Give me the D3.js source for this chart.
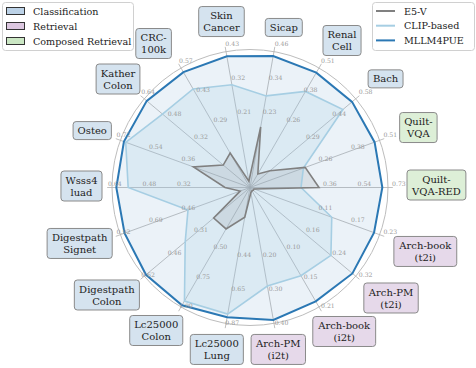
<!DOCTYPE html>
<html><head><meta charset="utf-8">
<script src="https://cdn.jsdelivr.net/npm/d3@7"></script>
<style>body{margin:0;background:#fff}svg{display:block}</style>
</head><body><svg id="c" width="476" height="368"></svg>
<script>
// Axes, counter-clockwise starting from the right (3 o'clock)
const categories = ["Quilt-\nVQA-RED", "Quilt-\nVQA", "Bach", "Renal\nCell", "Sicap", "Skin\nCancer",
  "CRC-\n100k", "Kather\nColon", "Osteo", "Wsss4\nluad", "Digestpath\nSignet", "Digestpath\nColon",
  "Lc25000\nColon", "Lc25000\nLung", "Arch-PM\n(i2t)", "Arch-book\n(i2t)", "Arch-PM\n(t2i)", "Arch-book\n(t2i)"];
const taskTypes = ["Composed Retrieval", "Composed Retrieval", "Classification", "Classification", "Classification",
  "Classification", "Classification", "Classification", "Classification", "Classification", "Classification",
  "Classification", "Classification", "Classification", "Retrieval", "Retrieval", "Retrieval", "Retrieval"];
const axisMax = [0.73, 0.51, 0.58, 0.51, 0.46, 0.43, 0.57, 0.64, 0.72, 0.64, 0.92, 0.62, 1.00, 0.87, 0.40, 0.21, 0.32, 0.23];
const tickFractions = [0.5, 0.75, 1.0];
const tickLabels = [
  ["0.36", "0.54", "0.73"], ["0.26", "0.38", "0.51"], ["0.29", "0.44", "0.58"], ["0.26", "0.38", "0.51"],
  ["0.23", "0.34", "0.46"], ["0.21", "0.32", "0.43"], ["0.29", "0.43", "0.57"], ["0.32", "0.48", "0.64"],
  ["0.36", "0.54", "0.72"], ["0.32", "0.48", "0.64"], ["0.46", "0.69", "0.92"], ["0.31", "0.46", "0.62"],
  ["0.50", "0.75", "1.00"], ["0.44", "0.65", "0.87"], ["0.20", "0.30", "0.40"], ["0.10", "0.15", "0.21"],
  ["0.16", "0.24", "0.32"], ["0.11", "0.17", "0.23"]];
const seriesNames = ["E5-V", "CLIP-based", "MLLM4PUE"];
const e5v = [0.365, 0.217, 0.11, 0.058, 0.205, 0.02, 0.164, 0.162, 0.314, 0.116, 0.07, 0.213, 0.347, 0.19, 0.015, 0.006, 0.01, 0.007];
const clipBased = [0.27, 0.21, 0.51, 0.41, 0.31, 0.325, 0.47, 0.53, 0.69, 0.565, 0.44, 0.38, 0.95, 0.81, 0.29, 0.155, 0.245, 0.145];
const mllm4pue = [0.70, 0.49, 0.56, 0.49, 0.445, 0.415, 0.55, 0.625, 0.70, 0.62, 0.89, 0.61, 0.985, 0.83, 0.39, 0.20, 0.31, 0.22];

// layout: small per-label nudges of the category boxes (px)
const labelNudgeX = [0, 3, 1, 2, 0, -2, -15, -2, 0, 1, 0, -5, -8, -6, -7, -2, -1, -2];
const labelNudgeY = [0, 0, -2, 1, 2, 2, 4, 2, 1, 1, 1, 2, 0, -1, -1, 1, 5, 9];

const taskOrder = ["Classification", "Retrieval", "Composed Retrieval"];
const taskFill = {"Classification": "#d5e3ef", "Retrieval": "#e6d9ea", "Composed Retrieval": "#ddefd7"};
const taskSwatch = {"Classification": "#bcd2e7", "Retrieval": "#dcc7e0", "Composed Retrieval": "#cbe7c4"};
const seriesColor = {"E5-V": "#808080", "CLIP-based": "#a6cee3", "MLLM4PUE": "#2b78b4"};
const seriesFill = {"E5-V": ["#8a8f98", 0.18], "CLIP-based": ["#a6cee3", 0.22], "MLLM4PUE": ["#6fa3cf", 0.14]};
const seriesWidth = {"E5-V": 1.6, "CLIP-based": 1.6, "MLLM4PUE": 2.0};

const cx = 250, cy = 187.5, R = 138;
const n = categories.length;
const svg = d3.select("#c");
const font = "DejaVu Serif";
const theta = i => i * 2 * Math.PI / n;           // CCW from +x
const pt = (i, r) => [cx + r * Math.cos(theta(i)), cy - r * Math.sin(theta(i))];
const scales = axisMax.map(m => d3.scaleLinear().domain([0, m]).range([0, R]));

const g = svg.append("g");
g.append("circle").attr("cx", cx).attr("cy", cy).attr("r", R)
  .attr("fill", "none").attr("stroke", "#bdbdbd").attr("stroke-width", 1);
categories.forEach((c, i) => {
  const [x2, y2] = pt(i, R * 1.035);
  g.append("line").attr("x1", cx).attr("y1", cy).attr("x2", x2).attr("y2", y2)
    .attr("stroke", "#b0b0b0").attr("stroke-width", 0.8);
});

const radial = d3.lineRadial()
  .angle((d, i) => Math.PI / 2 - theta(i))
  .radius((d, i) => scales[i](d))
  .curve(d3.curveLinearClosed);

const seriesData = [["MLLM4PUE", mllm4pue], ["CLIP-based", clipBased], ["E5-V", e5v]];
const plot = svg.append("g").attr("transform", `translate(${cx},${cy})`);
seriesData.forEach(([name, vals]) => {
  plot.append("path").attr("d", radial(vals))
    .attr("fill", seriesFill[name][0]).attr("fill-opacity", seriesFill[name][1]).attr("stroke", "none");
});
seriesData.forEach(([name, vals]) => {
  plot.append("path").attr("d", radial(vals))
    .attr("fill", "none").attr("stroke", seriesColor[name]).attr("stroke-width", seriesWidth[name])
    .attr("stroke-linejoin", "miter");
});

categories.forEach((c, i) => {
  tickFractions.forEach((f, k) => {
    const [x, y] = pt(i, R * f + 4);
    svg.append("text").attr("x", x).attr("y", y - 2)
      .attr("font-family", font).attr("font-size", 6.2).attr("fill", "#999")
      .text(tickLabels[i][k]);
  });
});

const r0 = 153, lineH = 12, padX = 4.5, padY = 3;
categories.forEach((c, i) => {
  const lines = c.split("\n");
  const lg = svg.append("g");
  const rect = lg.append("rect");
  const t = lg.append("text").attr("font-family", font).attr("font-size", 10).attr("fill", "#222")
    .attr("text-anchor", "middle");
  lines.forEach((l, k) => {
    t.append("tspan").attr("x", 0).attr("y", (k - (lines.length - 1) / 2) * lineH + 3.6).text(l);
  });
  const bb = t.node().getBBox();
  const w = bb.width + 2 * padX, h = lines.length * lineH + 2 * padY;
  rect.attr("x", -w / 2).attr("y", -h / 2).attr("width", w).attr("height", h).attr("rx", 3)
    .attr("fill", taskFill[taskTypes[i]]).attr("stroke", "#8a8a8a").attr("stroke-width", 1);
  const [px, py] = pt(i, r0);
  const ccx = px + Math.cos(theta(i)) * w / 2 + 4 + labelNudgeX[i];
  const ccy = py - Math.sin(theta(i)) * h / 2 - 2.5 + labelNudgeY[i];
  lg.attr("transform", `translate(${ccx},${ccy})`);
});

const lg1 = svg.append("g");
lg1.append("rect").attr("x", 2.5).attr("y", 2.5).attr("width", 131).attr("height", 48).attr("rx", 3)
  .attr("fill", "#fff").attr("stroke", "#d0d0d0").attr("stroke-width", 1);
taskOrder.forEach((tname, k) => {
  const y = 11 + k * 15;
  lg1.append("rect").attr("x", 6.5).attr("y", y - 3.5).attr("width", 18).attr("height", 7)
    .attr("fill", taskSwatch[tname]).attr("stroke", "#333").attr("stroke-width", 1);
  lg1.append("text").attr("x", 33).attr("y", y).attr("dominant-baseline", "central")
    .attr("font-family", font).attr("font-size", 9.6).attr("fill", "#222").text(tname);
});
const lg2 = svg.append("g");
lg2.append("rect").attr("x", 372.5).attr("y", 2.5).attr("width", 102).attr("height", 48).attr("rx", 3)
  .attr("fill", "#fff").attr("stroke", "#d0d0d0").attr("stroke-width", 1);
seriesNames.forEach((s, k) => {
  const y = 11 + k * 14.7;
  lg2.append("line").attr("x1", 376).attr("x2", 395).attr("y1", y).attr("y2", y)
    .attr("stroke", seriesColor[s]).attr("stroke-width", 2);
  lg2.append("text").attr("x", 404).attr("y", y).attr("dominant-baseline", "central")
    .attr("font-family", font).attr("font-size", 9.6).attr("fill", "#222").text(s);
});
</script>
</body></html>
